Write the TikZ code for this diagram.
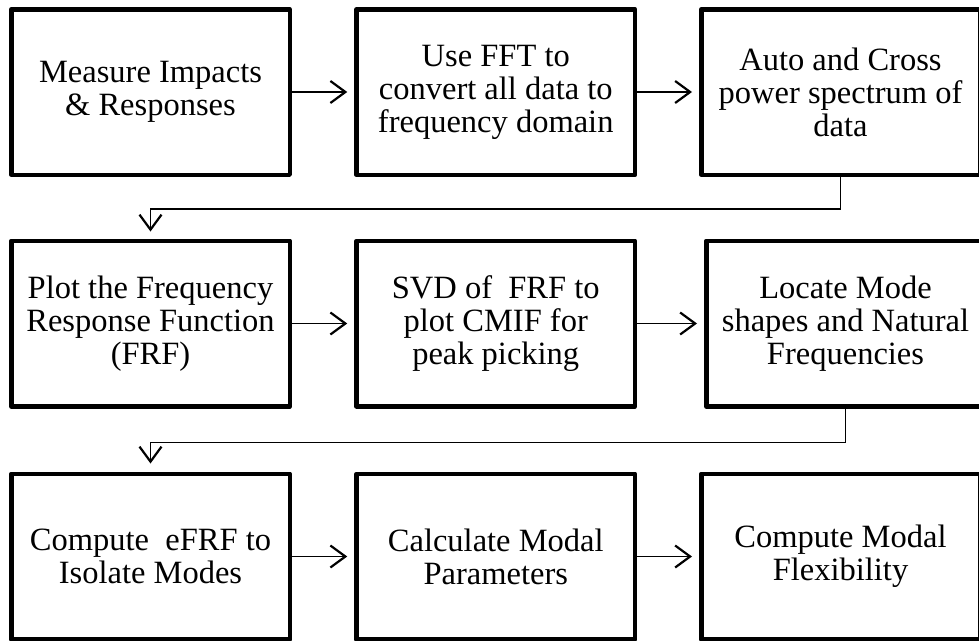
\documentclass[tikz,border=0pt]{standalone}
\usepackage{fontspec}
\setmainfont{Liberation Serif}
\usetikzlibrary{arrows.meta}
\tikzset{
  stepbox/.style={draw=black, line width=4.5pt, line join=round, fill=white, inner sep=0pt,
    minimum width=278.5pt, minimum height=165.5pt, align=center,
    font=\fontsize{32.5}{33}\selectfont},
  conn/.style={line width=1.6pt, -{Straight Barb[length=15pt,width=22pt,line width=2.2pt]}}
}
\begin{document}
\begin{tikzpicture}[x=1pt,y=-1pt]
\useasboundingbox (0,0) rectangle (979,640);
\node[stepbox] (b1) at (150.5,92) {Measure Impacts\\\& Responses};
\node[stepbox] (b2) at (495.75,92) {Use FFT to\\convert all data to\\frequency domain};
\node[stepbox] (b3) at (840.5,92) {Auto and Cross\\power spectrum of\\data};
\node[stepbox] (b4) at (150.5,323.5) {Plot the Frequency\\Response Function\\(FRF)};
\node[stepbox] (b5) at (495.75,323.5) {SVD of\ \ FRF to\\plot CMIF for\\peak picking};
\node[stepbox] (b6) at (845.5,323.5) {Locate Mode\\shapes and Natural\\Frequencies};
\node[stepbox] (b7) at (150.5,556.5) {Compute\ \ eFRF to\\Isolate Modes};
\node[stepbox] (b8) at (495.75,556.5) {Calculate Modal\\Parameters};
\node[stepbox] (b9) at (840.5,556.5) {Compute Modal\\Flexibility};
\draw[conn, shorten >=7pt] (b1) -- (b2);
\draw[conn, shorten >=7pt] (b2) -- (b3);
\draw[conn, shorten >=7pt] (b4) -- (b5);
\draw[conn, shorten >=7pt] (b5) -- (b6);
\draw[conn, shorten >=7pt] (b7) -- (b8);
\draw[conn, shorten >=7pt] (b8) -- (b9);
\draw[conn, shorten >=7pt] (b3.south) -- ++(0,32) -| (b4.north);
\draw[conn, shorten >=8pt] (b6.south) -- ++(0,34) -| (b7.north);
\end{tikzpicture}
\end{document}
